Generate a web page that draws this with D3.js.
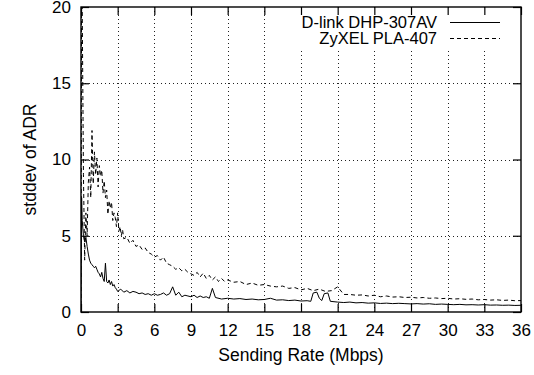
<!DOCTYPE html>
<html>
<head>
<meta charset="utf-8">
<script src="https://cdn.jsdelivr.net/npm/d3@7"></script>
<style>
  body { margin: 0; background: #fff; }
  text { font-family: "Liberation Sans", Arial, sans-serif; font-size: 17.5px; fill: #000; }
</style>
</head>
<body>
<svg width="534" height="375"></svg>
<script>
// tick labels
var xTicks = [0, 3, 6, 9, 12, 15, 18, 21, 24, 27, 30, 33, 36];
var yTicks = [0, 5, 10, 15, 20];

// D-link DHP-307AV (solid)
var dlinkRate = [0, 0.05, 0.1, 0.2, 0.3, 0.4, 0.5, 0.6, 0.7, 0.8, 0.9, 1.0, 1.1, 1.2, 1.3, 1.4, 1.5, 1.6, 1.7, 1.8, 1.9, 2.0, 2.1, 2.2, 2.3, 2.4, 2.5, 2.6, 2.7, 2.8, 2.9,
  3.0, 3.25, 3.5, 3.75, 4.0, 4.25, 4.5, 4.75, 5.0, 5.25, 5.5, 5.75, 6.0, 6.25, 6.5, 6.75, 7.0, 7.25, 7.5, 7.75, 8.0, 8.25, 8.5, 8.75, 9.0, 9.25, 9.5, 9.75, 10.0, 10.25, 10.5, 10.75,
  11, 11.5, 12, 12.5, 13, 13.5, 14, 14.5, 15, 15.5, 16, 16.5, 17, 17.5, 18, 18.5, 18.8, 19.0, 19.3, 19.5, 19.7, 19.9, 20.2, 20.4,
  21, 21.5, 22, 22.5, 23, 23.5, 24, 24.5, 25, 25.5, 26, 26.5, 27, 27.5, 28, 28.5, 29, 29.5, 30, 30.5, 31, 31.5, 32, 32.5, 33, 33.5, 34, 34.5, 35, 35.5, 36];
var dlinkStd = [0.5, 7.5, 6.0, 5.0, 4.6, 4.9, 4.3, 3.8, 3.4, 3.2, 3.1, 3.0, 2.9, 3.0, 2.8, 2.6, 2.5, 2.3, 2.6, 2.2, 2.0, 3.2, 2.0, 1.9, 2.1, 1.8, 2.0, 1.7, 1.8, 1.6, 1.5,
  1.35, 1.5, 1.3, 1.4, 1.25, 1.35, 1.3, 1.2, 1.25, 1.15, 1.2, 1.1, 1.2, 1.1, 1.15, 1.25, 1.1, 1.2, 1.65, 1.1, 1.3, 1.0, 1.1, 1.05, 1.0, 1.1, 0.95, 1.05, 0.95, 1.0, 0.9, 1.55,
  0.95, 0.85, 0.9, 0.85, 0.88, 0.82, 0.85, 0.8, 0.82, 0.9, 0.78, 0.8, 0.75, 0.78, 0.72, 0.74, 0.7, 1.25, 1.3, 0.9, 0.75, 1.2, 1.25, 0.7,
  0.65, 0.62, 0.65, 0.6, 0.62, 0.58, 0.6, 0.56, 0.58, 0.55, 0.57, 0.55, 0.53, 0.55, 0.52, 0.54, 0.5, 0.52, 0.5, 0.48, 0.5, 0.47, 0.48, 0.46, 0.48, 0.45, 0.46, 0.44, 0.45, 0.43, 0.44];

// ZyXEL PLA-407 (dashed)
var zyxelRate = [0, 0.05, 0.1, 0.2, 0.3, 0.4, 0.5, 0.6, 0.7, 0.8, 0.9, 1.0, 1.1, 1.2, 1.3, 1.4, 1.5, 1.6, 1.7, 1.8, 1.9, 2.0, 2.1, 2.2, 2.3, 2.4, 2.5, 2.6, 2.7, 2.8, 2.9,
  3.0, 3.1, 3.2, 3.3, 3.4, 3.5, 3.75, 4.0, 4.25, 4.5, 4.75, 5.0, 5.25, 5.5, 5.75, 6.0, 6.25, 6.5, 6.75, 7.0, 7.25, 7.5, 7.75, 8.0, 8.25, 8.5, 8.75, 9.0, 9.25, 9.5, 9.75,
  10.0, 10.25, 10.5, 10.75, 11.0, 11.25, 11.5, 11.75, 12, 12.5, 13, 13.5, 14, 14.5, 15, 15.5, 16, 16.5, 17, 17.5, 18, 18.5, 19, 19.5, 20, 20.5, 21, 21.5,
  22, 22.5, 23, 23.5, 24, 24.5, 25, 25.5, 26, 26.5, 27, 27.5, 28, 28.5, 29, 29.5, 30, 30.5, 31, 31.5, 32, 32.5, 33, 33.5, 34, 34.5, 35, 35.5, 36];
var zyxelStd = [0, 22, 20, 9, 3.4, 6.5, 5, 8.5, 9.5, 7.5, 11.9, 8.4, 10.5, 9.0, 10.1, 8.2, 9.6, 8.9, 9.3, 7.8, 8.6, 7.5, 8.0, 6.4, 7.3, 6.8, 7.2, 6.0, 6.5, 6.2, 5.6,
  6.5, 5.3, 5.6, 5.0, 5.4, 4.8, 4.9, 4.5, 4.7, 4.3, 4.4, 4.1, 4.2, 3.9, 3.8, 3.6, 3.7, 3.4, 3.6, 3.2, 3.1, 3.0, 2.8, 2.9, 2.7, 2.8, 2.6, 2.5, 2.4, 2.6, 2.3,
  2.55, 2.2, 2.4, 2.1, 2.3, 2.0, 2.2, 2.0, 2.1, 1.95, 2.0, 1.8, 1.9, 1.75, 1.8, 1.7, 1.65, 1.7, 1.55, 1.6, 1.45, 1.55, 1.4, 1.5, 1.35, 1.4, 1.65, 1.15,
  1.15, 1.1, 1.12, 1.05, 1.1, 1.0, 1.05, 0.98, 1.0, 0.95, 0.97, 0.92, 0.95, 0.9, 0.92, 0.88, 0.9, 0.85, 0.87, 0.83, 0.85, 0.8, 0.82, 0.78, 0.8, 0.76, 0.78, 0.74, 0.75];

// plot box (named so they don't clash with window.top)
var plotL = 81, plotR = 521, plotT = 7, plotB = 312;

var svg = d3.select('svg');

var x = d3.scaleLinear().domain([0, 36]).range([plotL, plotR]);
var y = d3.scaleLinear().domain([0, 20]).range([plotB, plotT]);

// grid
var grid = svg.append('g')
  .attr('stroke', '#222')
  .attr('stroke-width', 1)
  .attr('stroke-dasharray', '1,3');
grid.selectAll('.gx')
  .data(xTicks.slice(1, -1))
  .enter().append('line')
  .attr('x1', function(d){return Math.round(x(d)) + 0.5})
  .attr('x2', function(d){return Math.round(x(d)) + 0.5})
  .attr('y1', plotB)
  .attr('y2', plotT);
grid.selectAll('.gy')
  .data(yTicks.slice(1, -1))
  .enter().append('line')
  .attr('y1', function(d){return Math.round(y(d)) + 0.5})
  .attr('y2', function(d){return Math.round(y(d)) + 0.5})
  .attr('x1', plotL)
  .attr('x2', plotR);

// key area hides the grid
svg.append('rect')
  .attr('x', 288).attr('y', plotT + 1)
  .attr('width', 222).attr('height', 42)
  .attr('fill', '#fff');

// axes with mirrored ticks
svg.append('g')
  .attr('transform', 'translate(0,' + plotB + ')')
  .call(d3.axisBottom(x).tickValues(xTicks).tickSize(-8).tickPadding(12).tickFormat(d3.format('d')));
svg.append('g')
  .attr('transform', 'translate(0,' + plotT + ')')
  .call(d3.axisTop(x).tickValues(xTicks).tickSize(-8).tickFormat(''));
svg.append('g')
  .attr('transform', 'translate(' + plotL + ',0)')
  .call(d3.axisLeft(y).tickValues(yTicks).tickSize(-8).tickPadding(10).tickFormat(d3.format('d')));
svg.append('g')
  .attr('transform', 'translate(' + plotR + ',0)')
  .call(d3.axisRight(y).tickValues(yTicks).tickSize(-8).tickFormat(''));

svg.selectAll('.domain').remove();
svg.selectAll('.tick line').attr('stroke', '#000').attr('stroke-width', 1.2);
svg.selectAll('.tick text').style('font-size', '17px').style('font-family', '"Liberation Sans", Arial, sans-serif');

// frame
svg.append('rect')
  .attr('x', plotL).attr('y', plotT)
  .attr('width', plotR - plotL).attr('height', plotB - plotT)
  .attr('fill', 'none').attr('stroke', '#000').attr('stroke-width', 1.4);

// clip
svg.append('clipPath').attr('id', 'clip')
  .append('rect').attr('x', plotL).attr('y', plotT).attr('width', plotR - plotL).attr('height', plotB - plotT);

var line = d3.line()
  .x(function(d){return x(d[0])})
  .y(function(d){return y(d[1])});

var dlink = dlinkRate.map(function(r, i){return [r, dlinkStd[i]]});
var zyxel = zyxelRate.map(function(r, i){return [r, zyxelStd[i]]});

svg.append('path')
  .datum(zyxel)
  .attr('clip-path', 'url(#clip)')
  .attr('d', line)
  .attr('fill', 'none')
  .attr('stroke', '#000')
  .attr('stroke-width', 1)
  .attr('stroke-dasharray', '4,3');

svg.append('path')
  .datum(dlink)
  .attr('clip-path', 'url(#clip)')
  .attr('d', line)
  .attr('fill', 'none')
  .attr('stroke', '#000')
  .attr('stroke-width', 1);

// key
var keyNames = ['D-link DHP-307AV', 'ZyXEL PLA-407'];
var keyDash = ['none', '4,3'];
var key = svg.append('g');
key.selectAll('text')
  .data(keyNames)
  .enter().append('text')
  .attr('x', 437)
  .attr('y', function(d, i){return 28 + i * 16})
  .style('font-size', '16.5px')
  .attr('text-anchor', 'end')
  .text(function(d){return d});
key.selectAll('line')
  .data(keyDash)
  .enter().append('line')
  .attr('x1', 450).attr('x2', 500)
  .attr('y1', function(d, i){return 22.5 + i * 16})
  .attr('y2', function(d, i){return 22.5 + i * 16})
  .attr('stroke', '#000')
  .attr('stroke-width', 1)
  .attr('stroke-dasharray', function(d){return d});

// axis titles
svg.append('text')
  .attr('x', (plotL + plotR) / 2)
  .attr('y', 361)
  .attr('text-anchor', 'middle')
  .text('Sending Rate (Mbps)');
svg.append('text')
  .attr('transform', 'translate(36,' + (plotT + plotB) / 2 + ') rotate(-90)')
  .attr('text-anchor', 'middle')
  .text('stddev of ADR');
</script>
</body>
</html>
